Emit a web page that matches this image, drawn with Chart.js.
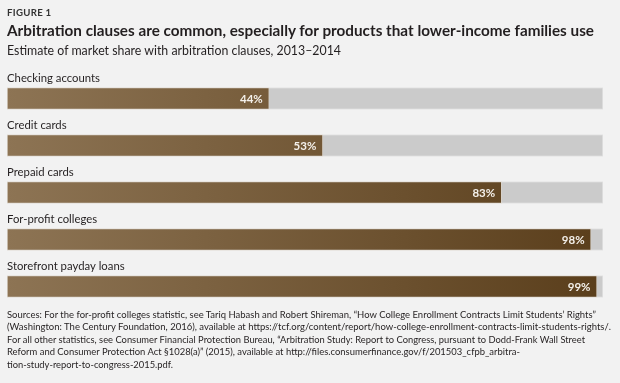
<!DOCTYPE html>
<html>
<head>
<meta charset="utf-8">
<script src="https://cdn.jsdelivr.net/npm/chart.js@4"></script>
<style>
  body { margin: 0; background: #f2f2f2; font-family: Lato, sans-serif; color: #231f20; }
  #wrap { position: relative; width: 620px; height: 383px; overflow: hidden; }
  #chartBox { position: absolute; left: 0; top: 0; width: 620px; height: 383px; }
  .txt { position: absolute; left: 7px; white-space: nowrap; line-height: 1.2; transform-origin: 0 0; }
  #fig { top: 5.8px; font-size: 10px; font-weight: bold; letter-spacing: 0.3px; color: #333; }
  #title { top: 21.2px; font-size: 15px; font-weight: bold; }
  #sub { top: 41.5px; font-size: 14px; }
  .src { font-size: 10px; }
</style>
</head>
<body>
<div id="wrap">
  <div id="chartBox"><canvas id="chart"></canvas></div>
  <div class="txt" id="fig" data-w="44.5">FIGURE 1</div>
  <div class="txt" id="title" data-w="587">Arbitration clauses are common, especially for products that lower-income families use</div>
  <div class="txt" id="sub" data-w="334">Estimate of market share with arbitration clauses, 2013–2014</div>
  <div class="txt src" style="top:307.9px" data-w="589">Sources: For the for-profit colleges statistic, see Tariq Habash and Robert Shireman, “How College Enrollment Contracts Limit Students’ Rights”</div>
  <div class="txt src" style="top:320.3px" data-w="604">(Washington: The Century Foundation, 2016), available at https://tcf.org/content/report/how-college-enrollment-contracts-limit-students-rights/.</div>
  <div class="txt src" style="top:332.7px" data-w="578">For all other statistics, see Consumer Financial Protection Bureau, “Arbitration Study: Report to Congress, pursuant to Dodd-Frank Wall Street</div>
  <div class="txt src" style="top:345.1px" data-w="513">Reform and Consumer Protection Act §1028(a)” (2015), available at http://files.consumerfinance.gov/f/201503_cfpb_arbitra-</div>
  <div class="txt src" style="top:357.5px" data-w="166">tion-study-report-to-congress-2015.pdf.</div>
</div>
<script>
// --- DATA ---
const categories = ['Checking accounts', 'Credit cards', 'Prepaid cards', 'For-profit colleges', 'Storefront payday loans'];
const shares = [44, 53, 83, 98, 99];
const fullScale = [100, 100, 100, 100, 100];

// squeeze the html text to the widths of the original (narrower typeface there)
document.querySelectorAll('.txt').forEach(el => {
    const w = el.getBoundingClientRect().width;
    const target = parseFloat(el.dataset.w);
    el.style.transform = 'scaleX(' + (target / w) + ')';
});

// brown gradient running across the whole track
function brownFill(context) {
    const chart = context.chart;
    const area = chart.chartArea;
    if (!area) return '#725634';
    const g = chart.ctx.createLinearGradient(area.left, 0, area.right, 0);
    g.addColorStop(0, '#8d7454');
    g.addColorStop(1, '#5a3e1b');
    return g;
}

// category names above bars, values inside bar ends
const barLabels = {
    id: 'barLabels',
    afterDatasetsDraw(chart) {
        const ctx = chart.ctx;
        const meta = chart.getDatasetMeta(1);
        const left = chart.chartArea.left;
        ctx.save();
        ctx.font = '11.5px Lato, sans-serif';
        const catScale = Math.min(1, 93 / ctx.measureText(categories[0]).width);
        ctx.font = 'bold 11.5px Lato, sans-serif';
        const valScale = Math.min(1, 23 / ctx.measureText(shares[0] + '%').width);
        ctx.textBaseline = 'alphabetic';

        meta.data.forEach((bar, i) => {
            ctx.save();
            ctx.translate(left, bar.y - 17);
            ctx.scale(catScale, 1);
            ctx.textAlign = 'left';
            ctx.fillStyle = '#231f20';
            ctx.font = '11.5px Lato, sans-serif';
            ctx.fillText(categories[i], 0, 0);
            ctx.restore();

            ctx.save();
            ctx.translate(bar.x - 6.5, bar.y + 4);
            ctx.scale(valScale, 1);
            ctx.textAlign = 'right';
            ctx.fillStyle = '#f4f0ea';
            ctx.font = 'bold 11.5px Lato, sans-serif';
            ctx.fillText(shares[i] + '%', 0, 0);
            ctx.restore();
        });
        ctx.restore();
    }
};

new Chart(document.getElementById('chart'), {
    type: 'bar',
    data: {
        labels: categories,
        datasets: [
            {
                data: fullScale,
                backgroundColor: '#cbcbcb',
                borderColor: '#e4e4e4',
                borderWidth: 1,
                borderSkipped: false,
                barThickness: 22,
                grouped: false,
                order: 2
            },
            {
                data: shares,
                backgroundColor: brownFill,
                borderColor: 'rgba(230,220,205,0.5)',
                borderWidth: 1,
                borderSkipped: false,
                barThickness: 22,
                grouped: false,
                order: 1
            }
        ]
    },
    options: {
        indexAxis: 'y',
        responsive: true,
        maintainAspectRatio: false,
        animation: false,
        layout: { padding: { left: 7, right: 17, top: 75, bottom: 73 } },
        scales: {
            x: { display: false, min: 0, max: 100 },
            y: { display: false }
        },
        plugins: { legend: { display: false }, tooltip: { enabled: false } }
    },
    plugins: [barLabels]
});
</script>
</body>
</html>
